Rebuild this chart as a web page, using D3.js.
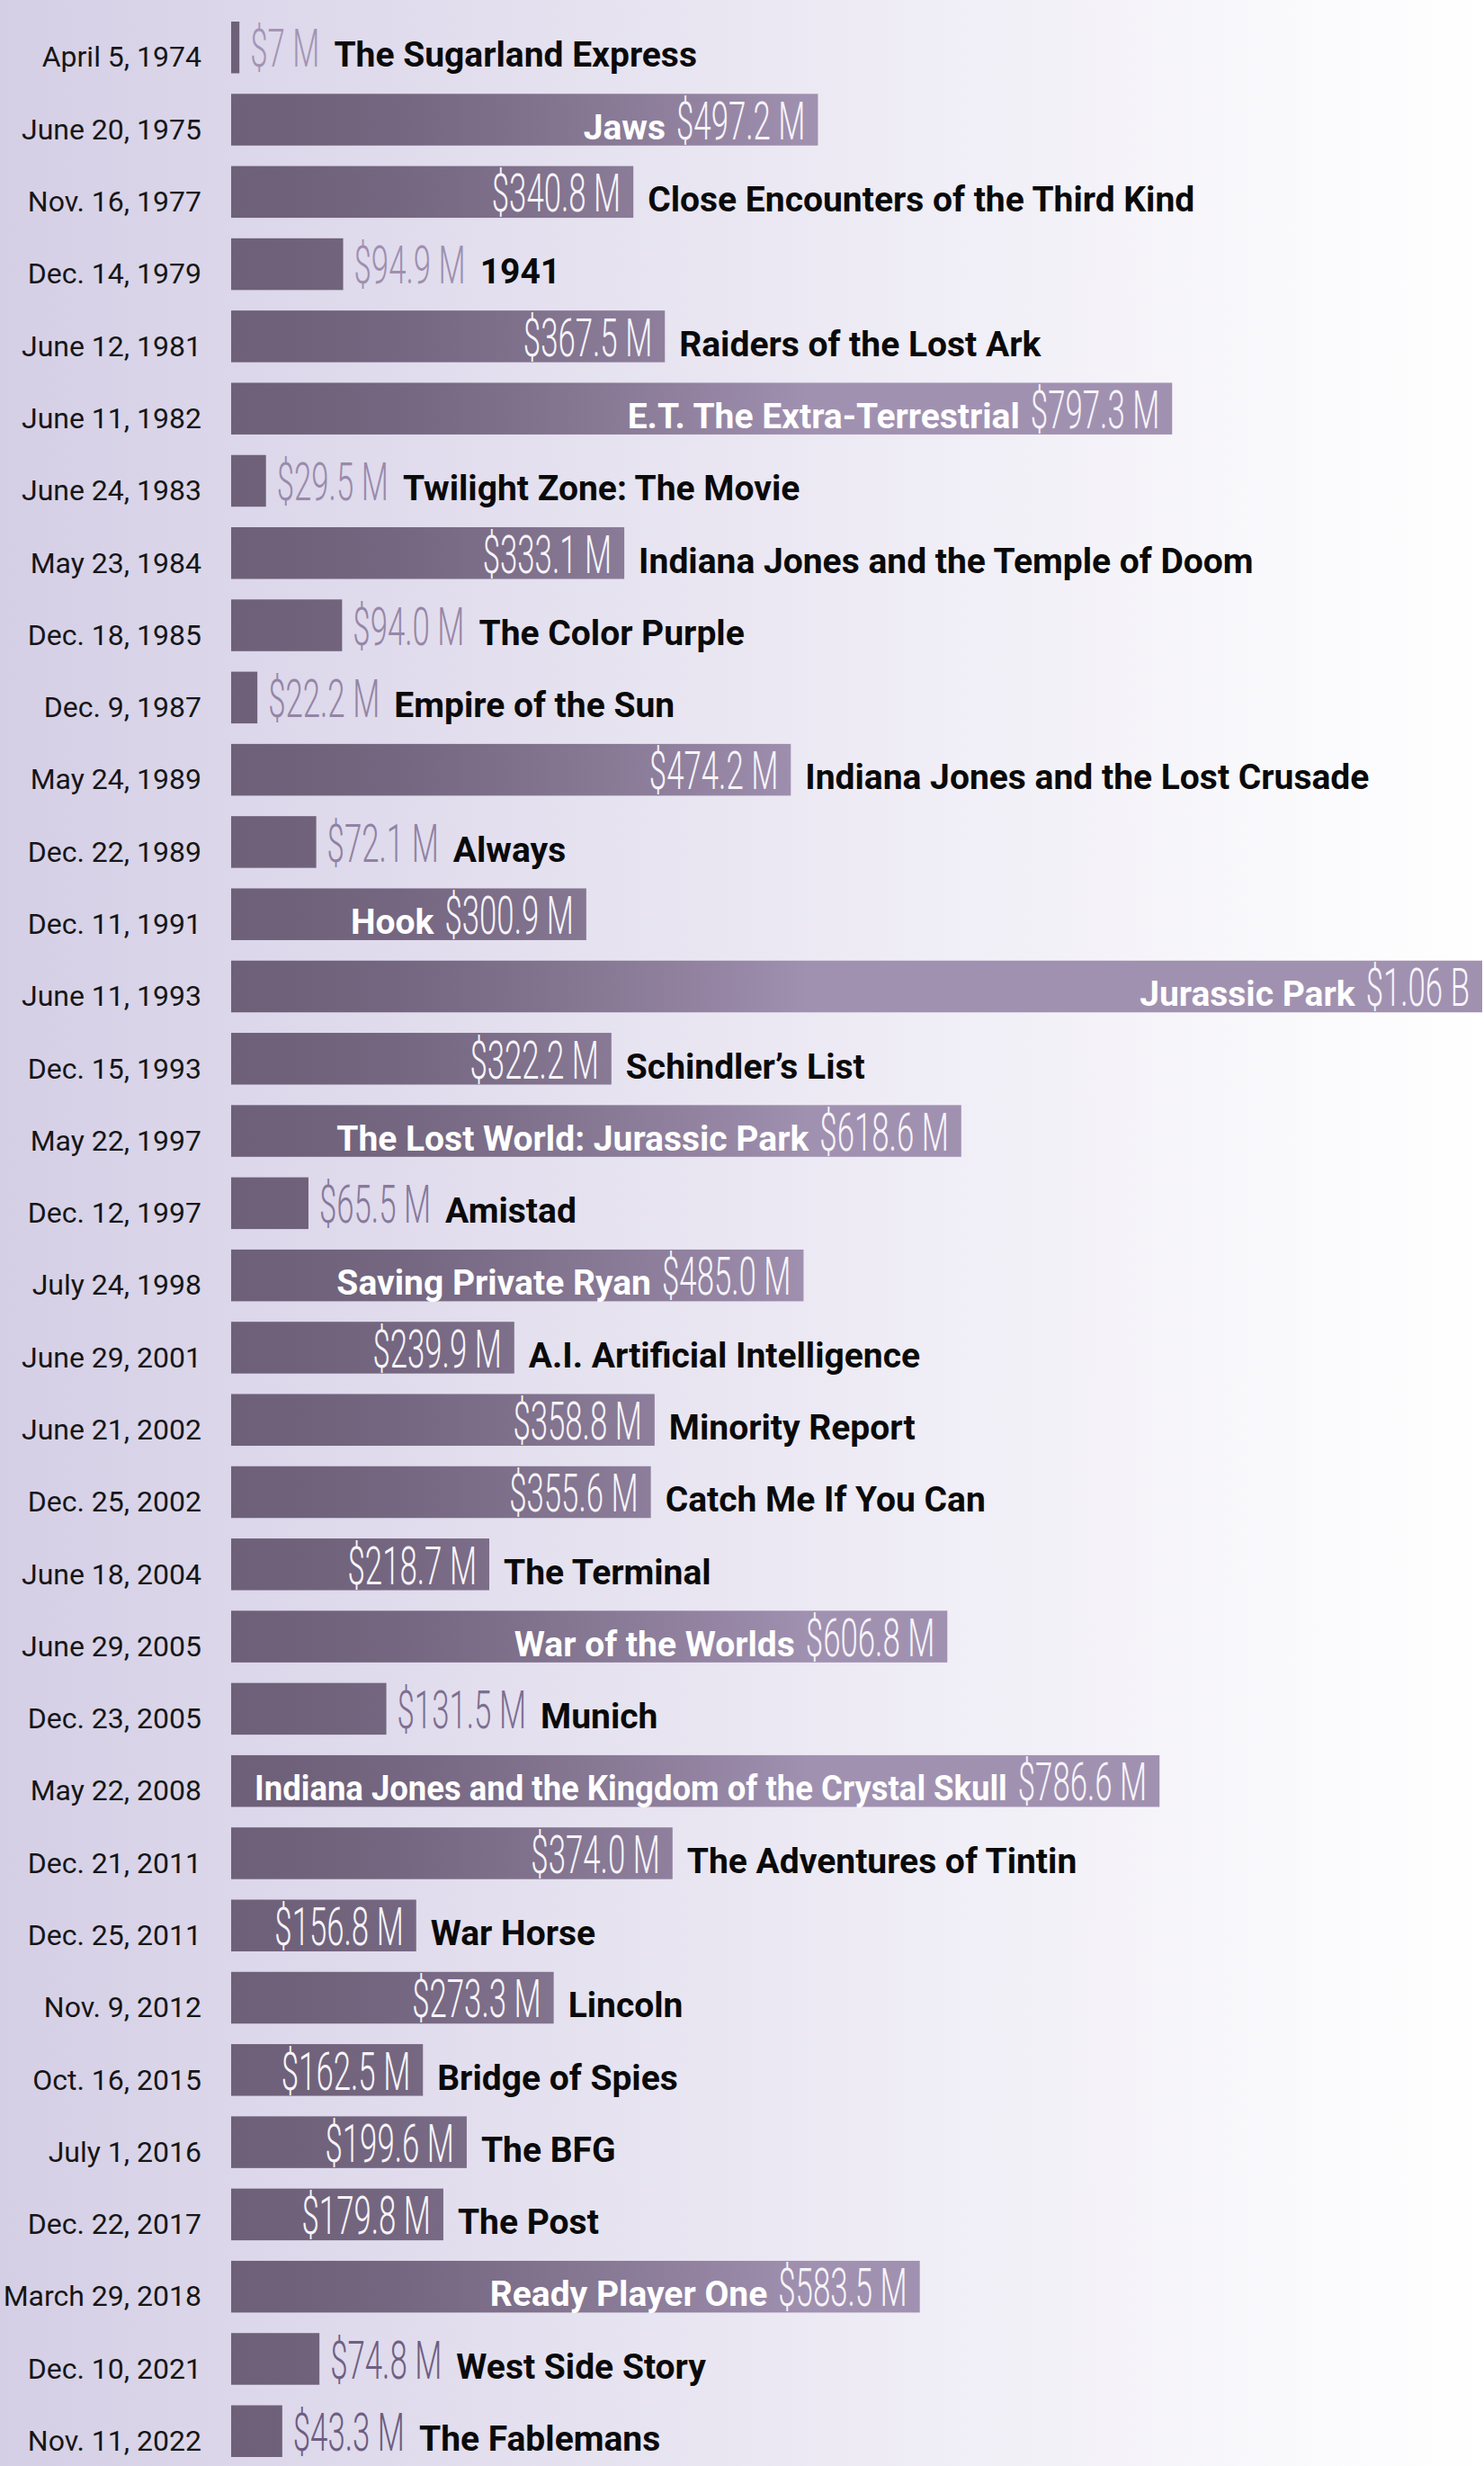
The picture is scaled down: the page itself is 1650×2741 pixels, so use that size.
<!DOCTYPE html>
<html>
<head>
<meta charset="utf-8">
<script src="https://cdn.jsdelivr.net/npm/d3@7"></script>
<style>
  body { margin: 0; background: #fff; }
  svg { display: block; }
</style>
</head>
<body>
<div id="chart"></div>
<script>
// release dates, titles and worldwide gross (millions of dollars)
const releaseDates = [
  "April 5, 1974", "June 20, 1975", "Nov. 16, 1977", "Dec. 14, 1979", "June 12, 1981",
  "June 11, 1982", "June 24, 1983", "May 23, 1984", "Dec. 18, 1985", "Dec. 9, 1987",
  "May 24, 1989", "Dec. 22, 1989", "Dec. 11, 1991", "June 11, 1993", "Dec. 15, 1993",
  "May 22, 1997", "Dec. 12, 1997", "July 24, 1998", "June 29, 2001", "June 21, 2002",
  "Dec. 25, 2002", "June 18, 2004", "June 29, 2005", "Dec. 23, 2005", "May 22, 2008",
  "Dec. 21, 2011", "Dec. 25, 2011", "Nov. 9, 2012", "Oct. 16, 2015", "July 1, 2016",
  "Dec. 22, 2017", "March 29, 2018", "Dec. 10, 2021", "Nov. 11, 2022"
];

const titles = [
  "The Sugarland Express", "Jaws", "Close Encounters of the Third Kind", "1941",
  "Raiders of the Lost Ark", "E.T. The Extra-Terrestrial", "Twilight Zone: The Movie",
  "Indiana Jones and the Temple of Doom", "The Color Purple", "Empire of the Sun",
  "Indiana Jones and the Lost Crusade", "Always", "Hook", "Jurassic Park",
  "Schindler’s List", "The Lost World: Jurassic Park", "Amistad", "Saving Private Ryan",
  "A.I. Artificial Intelligence", "Minority Report", "Catch Me If You Can", "The Terminal",
  "War of the Worlds", "Munich", "Indiana Jones and the Kingdom of the Crystal Skull",
  "The Adventures of Tintin", "War Horse", "Lincoln", "Bridge of Spies", "The BFG",
  "The Post", "Ready Player One", "West Side Story", "The Fablemans"
];

const grossMillions = [
  7, 497.2, 340.8, 94.9, 367.5, 797.3, 29.5, 333.1, 94.0, 22.2,
  474.2, 72.1, 300.9, 1060, 322.2, 618.6, 65.5, 485.0, 239.9, 358.8,
  355.6, 218.7, 606.8, 131.5, 786.6, 374.0, 156.8, 273.3, 162.5, 199.6,
  179.8, 583.5, 74.8, 43.3
];

// films whose title is printed inside the bar (white) in the original
const titlesInBar = [
  "Jaws", "E.T. The Extra-Terrestrial", "Hook", "Jurassic Park",
  "The Lost World: Jurassic Park", "Saving Private Ryan", "War of the Worlds",
  "Indiana Jones and the Kingdom of the Crystal Skull", "Ready Player One"
];

const width = 1650;
const height = 2741;
const barLeft = 257;
const barRight = 1648;

const films = titles.map((t, i) => ({ i, title: t, date: releaseDates[i], gross: grossMillions[i] }));

const fmtGross = v => v >= 1000 ? `$${(v / 1000).toFixed(2)} B`
  : v < 10 ? `$${v} M` : `$${v.toFixed(1)} M`;

const svg = d3.select("#chart").append("svg")
  .attr("width", width)
  .attr("height", height);

const defs = svg.append("defs");

// background wash, lavender to white
const bgGrad = defs.append("linearGradient")
  .attr("id", "bg-grad")
  .attr("x1", "0%").attr("x2", "100%").attr("y1", "0%").attr("y2", "0%");
bgGrad.append("stop").attr("offset", "0%").attr("stop-color", "#d5cfe6");
bgGrad.append("stop").attr("offset", "100%").attr("stop-color", "#ffffff");

// bars share one gradient across the page, eased so short bars stay dark
const barColor = d3.interpolateRgb("#6e6079", "#a191b1");
const barGrad = defs.append("linearGradient")
  .attr("id", "bar-grad")
  .attr("gradientUnits", "userSpaceOnUse")
  .attr("x1", barLeft).attr("x2", 900).attr("y1", 0).attr("y2", 0);
barGrad.selectAll("stop")
  .data(d3.range(0, 1.0001, 0.1))
  .join("stop")
  .attr("offset", t => t)
  .attr("stop-color", t => barColor(Math.pow(t, 1.6)));

svg.append("rect")
  .attr("width", width).attr("height", height)
  .attr("fill", "url(#bg-grad)");

const x = d3.scaleLinear()
  .domain([0, 1060])
  .range([barLeft, barRight]);

const y = d3.scaleBand()
  .domain(films.map(d => d.i))
  .range([24, 2731])
  .paddingInner(0.284)
  .paddingOuter(0);

// outside value labels fade from light (top) to dark (bottom)
const outsideColor = d3.scaleLinear()
  .domain([0, films.length - 1])
  .range(["#a394b4", "#6c5d80"])
  .interpolate(d3.interpolateRgb);

const VALUE_SCALE = 0.59;
const PAD = 14;

const rows = svg.append("g")
  .selectAll("g")
  .data(films)
  .join("g")
  .attr("transform", d => `translate(0,${y(d.i)})`);

rows.append("rect")
  .attr("x", x(0))
  .attr("y", 0)
  .attr("width", d => x(d.gross) - x(0))
  .attr("height", y.bandwidth())
  .attr("fill", "url(#bar-grad)");

const base = y.bandwidth() - 7;

rows.append("text")
  .attr("x", 224)
  .attr("y", base)
  .attr("text-anchor", "end")
  .attr("font-family", "Roboto, sans-serif")
  .attr("font-size", 32)
  .attr("fill", "#161616")
  .text(d => d.date);

rows.each(function(d) {
  const g = d3.select(this);
  const end = x(d.gross);
  const barW = end - x(0);

  const val = g.append("text")
    .attr("font-family", "Roboto, sans-serif")
    .attr("font-weight", 300)
    .attr("font-size", 59)
    .text(fmtGross(d.gross));
  const valW = val.node().getComputedTextLength() * VALUE_SCALE;
  const valInside = barW >= valW + 40;

  const ttl = g.append("text")
    .attr("font-family", "Roboto, sans-serif")
    .attr("font-weight", 700)
    .attr("font-size", 39)
    .text(d.title);
  const ttlW = ttl.node().getComputedTextLength();

  let valLeft;
  if (valInside) {
    valLeft = end - PAD - valW;
    val.attr("text-anchor", "end")
      .attr("fill", "#f7f5fa")
      .attr("transform", `translate(${end - PAD},${base}) scale(${VALUE_SCALE},1)`);
  } else {
    valLeft = end + 12;
    val.attr("text-anchor", "start")
      .attr("fill", outsideColor(d.i))
      .attr("transform", `translate(${valLeft},${base}) scale(${VALUE_SCALE},1)`);
  }

  if (titlesInBar.includes(d.title)) {
    // squeeze the title sideways if it would run past the bar's left edge
    const room = valLeft - 12 - (x(0) + 26);
    const sx = Math.min(1, room / ttlW);
    ttl.attr("text-anchor", "end")
      .attr("transform", `translate(${valLeft - 12},${base}) scale(${sx},1)`)
      .attr("fill", "#ffffff");
  } else {
    const start = valInside ? end + 16 : valLeft + valW + 16;
    ttl.attr("text-anchor", "start")
      .attr("x", start)
      .attr("y", base)
      .attr("fill", "#0a0a0a");
  }
});
</script>
</body>
</html>
